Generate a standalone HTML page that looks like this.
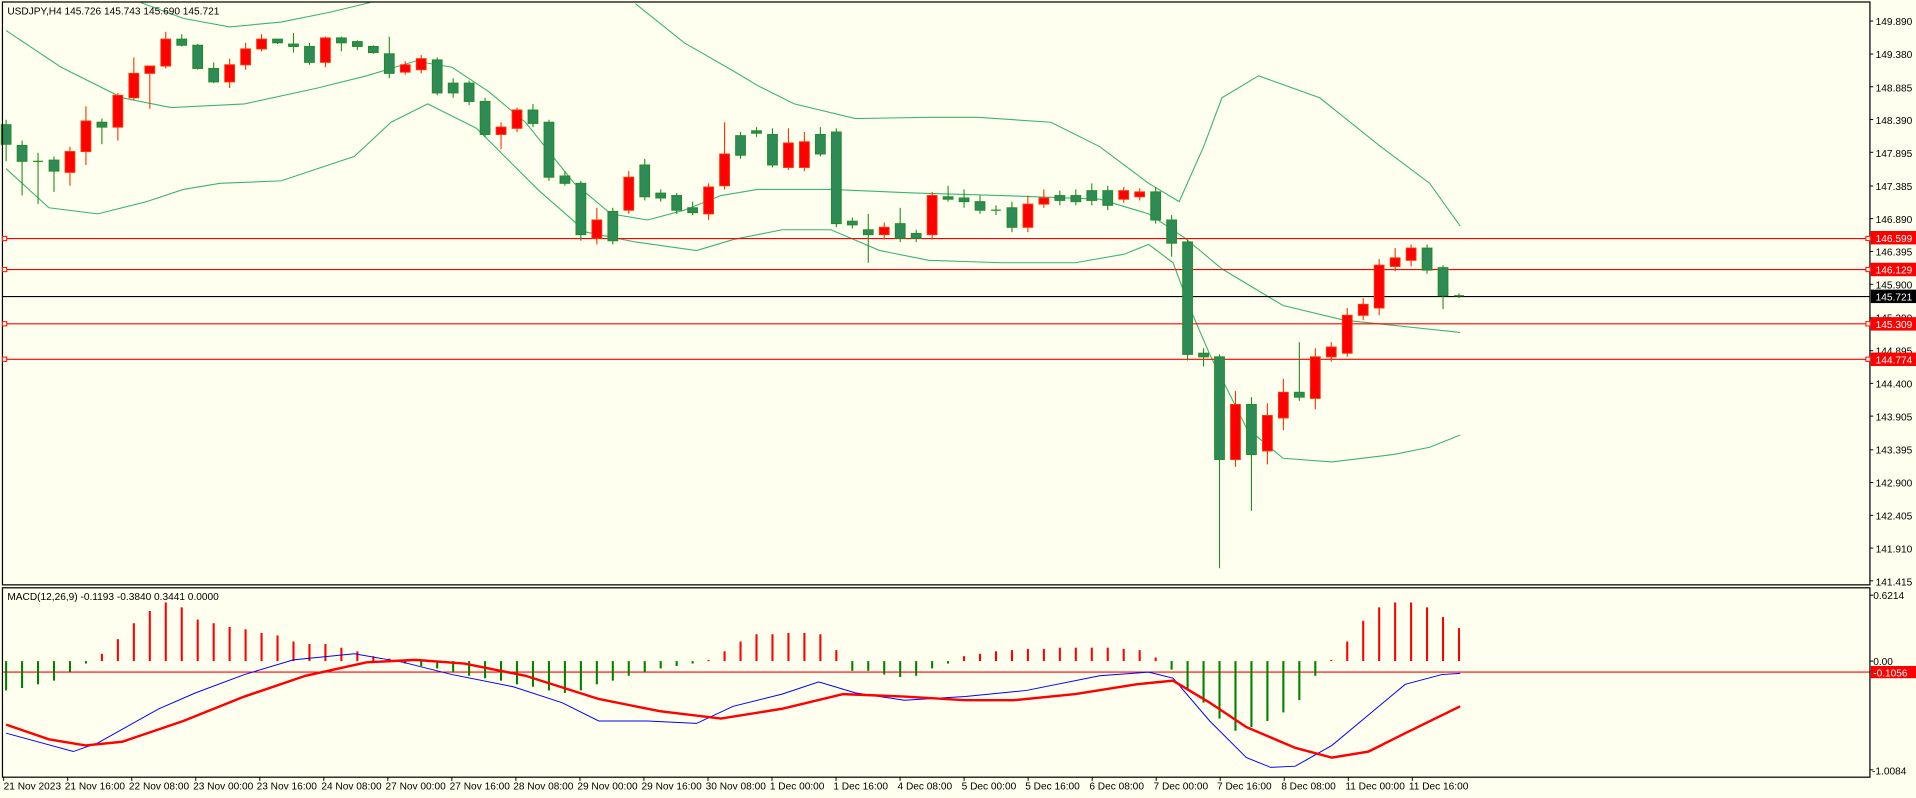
<!DOCTYPE html>
<html><head><meta charset="utf-8"><style>
html,body{margin:0;padding:0;background:#fffff0;overflow:hidden}
svg{display:block}
text{font-family:"Liberation Sans",sans-serif;font-size:8.3px;fill:#000}
</style></head><body>
<svg id="s" width="1916" height="798" viewBox="0 0 1568 653" xmlns="http://www.w3.org/2000/svg">
<rect x="0" y="0" width="1568" height="653" fill="#fffff0"/>
<g id="bands" fill="none" stroke="#3cb371" stroke-width="0.9">
<polyline points="115,2 150,15 188,22 230,18 270,10 303,2"/>
<polyline points="520,3 560,35 600,58 620,70 650,85 700,97 760,96 800,96 860,100 900,120 940,150 965,165 985,120 1000,80 1030,62 1080,80 1130,120 1170,150 1195,185"/>
<polyline points="5,25 50,55 100,80 140,88 200,85 260,72 300,62 340,50 370,55 400,75 430,100 470,150 500,175 530,180 560,172 590,160 620,155 680,155 750,158 820,160 900,163 940,175 970,195 1000,220 1050,250 1100,262 1195,272"/>
<polyline points="5,138 40,170 80,175 120,165 150,155 180,150 230,148 290,128 320,100 350,85 390,105 440,155 480,190 520,198 570,205 600,196 640,188 680,188 720,205 760,213 820,215 880,215 920,208 940,200 960,215 975,255 990,290 1020,350 1050,375 1090,378 1140,372 1170,366 1195,356"/>
</g>
<g id="levels">
<line x1="2" y1="195.2" x2="1530" y2="195.2" stroke="#ff0000" stroke-width="0.9"/>
<line x1="2" y1="220.6" x2="1530" y2="220.6" stroke="#ff0000" stroke-width="0.9"/>
<line x1="2" y1="265" x2="1530" y2="265" stroke="#ff0000" stroke-width="0.9"/>
<line x1="2" y1="294" x2="1530" y2="294" stroke="#ff0000" stroke-width="0.9"/>
<line x1="2" y1="242.7" x2="1530" y2="242.7" stroke="#000" stroke-width="0.9"/>
<line x1="2" y1="550" x2="1530" y2="550" stroke="#ff0000" stroke-width="0.9"/>
</g>
<g id="candles"></g>
<g id="hist"></g>
<g fill="none">
<polyline stroke="#0000ff" stroke-width="0.8" points="5,600 60,615 80,608 130,580 160,567 200,552 240,540 290,535 330,542 370,552 420,562 460,575 490,590 530,590 570,592 600,578 640,568 670,558 700,567 740,573 790,570 840,565 900,553 940,550 960,555 990,590 1020,620 1040,628 1060,627 1090,610 1120,585 1150,560 1180,552 1195,551"/>
<polyline stroke="#ff0000" stroke-width="2" points="5,593 40,605 70,610 100,607 150,590 200,570 250,553 300,542 340,540 380,543 430,553 490,572 540,582 590,588 640,580 690,568 740,570 790,573 830,573 880,568 930,560 960,557 990,575 1020,595 1060,612 1090,620 1120,615 1150,600 1195,578"/>
</g>
<g fill="none" stroke="#000" stroke-width="1">
<rect x="2" y="1.6" width="1528.3" height="477"/>
<rect x="2" y="481" width="1528.3" height="155"/>
</g>
<g fill="#fffff0" stroke="#ff0000" stroke-width="0.8">
<rect x="2" y="193.4" width="3.5" height="3.5"/><rect x="2" y="218.8" width="3.5" height="3.5"/>
<rect x="2" y="263.2" width="3.5" height="3.5"/><rect x="2" y="292.2" width="3.5" height="3.5"/>
<rect x="1527" y="193.4" width="3.5" height="3.5"/><rect x="1527" y="218.8" width="3.5" height="3.5"/>
<rect x="1527" y="263.2" width="3.5" height="3.5"/><rect x="1527" y="292.2" width="3.5" height="3.5"/>
</g>
<g id="pticks" stroke="#000" stroke-width="0.8"></g>
<g>
<text x="1535" y="20.5">149.890</text>
<text x="1535" y="47.5">149.380</text>
<text x="1535" y="75">148.885</text>
<text x="1535" y="101.5">148.390</text>
<text x="1535" y="128.5">147.895</text>
<text x="1535" y="155.5">147.385</text>
<text x="1535" y="182.5">146.890</text>
<text x="1535" y="209">146.395</text>
<text x="1535" y="236">145.900</text>
<text x="1535" y="263">145.390</text>
<text x="1535" y="290">144.895</text>
<text x="1535" y="317">144.400</text>
<text x="1535" y="344">143.905</text>
<text x="1535" y="371">143.395</text>
<text x="1535" y="398">142.900</text>
<text x="1535" y="425">142.405</text>
<text x="1535" y="452">141.910</text>
<text x="1535" y="479">141.415</text>
<rect x="1531" y="189" width="37" height="11" fill="#ff0000"/><text x="1535" y="198" style="fill:#fff">146.599</text>
<rect x="1531" y="215" width="37" height="11" fill="#ff0000"/><text x="1535" y="224" style="fill:#fff">146.129</text>
<rect x="1531" y="237" width="37" height="11" fill="#000"/><text x="1535" y="246" style="fill:#fff">145.721</text>
<rect x="1531" y="259.5" width="37" height="11" fill="#ff0000"/><text x="1535" y="268.5" style="fill:#fff">145.309</text>
<rect x="1531" y="288.5" width="37" height="11" fill="#ff0000"/><text x="1535" y="297.5" style="fill:#fff">144.774</text>
<text x="1533" y="490">0.6214</text>
<text x="1533" y="544">0.00</text>
<rect x="1531" y="545" width="37" height="10" fill="#ff0000"/><text x="1533" y="553.5" style="fill:#fff">-0.1056</text>
<text x="1532" y="634">-1.0084</text>
<text x="6" y="12">USDJPY,H4  145.726 145.743 145.690 145.721</text>
<text x="6" y="491">MACD(12,26,9) -0.1193 -0.3840 0.3441 0.0000</text>
</g>
<g id="tlabels">
<text x="3" y="646">21 Nov 2023</text>
<text x="53" y="646">21 Nov 16:00</text>
<text x="105.5" y="646">22 Nov 08:00</text>
<text x="158" y="646">23 Nov 00:00</text>
<text x="210" y="646">23 Nov 16:00</text>
<text x="263" y="646">24 Nov 08:00</text>
<text x="315.5" y="646">27 Nov 00:00</text>
<text x="368" y="646">27 Nov 16:00</text>
<text x="420" y="646">28 Nov 08:00</text>
<text x="472.5" y="646">29 Nov 00:00</text>
<text x="525" y="646">29 Nov 16:00</text>
<text x="577.5" y="646">30 Nov 08:00</text>
<text x="630" y="646">1 Dec 00:00</text>
<text x="682" y="646">1 Dec 16:00</text>
<text x="734.5" y="646">4 Dec 08:00</text>
<text x="787" y="646">5 Dec 00:00</text>
<text x="839" y="646">5 Dec 16:00</text>
<text x="891.5" y="646">6 Dec 08:00</text>
<text x="944" y="646">7 Dec 00:00</text>
<text x="996" y="646">7 Dec 16:00</text>
<text x="1048.5" y="646">8 Dec 08:00</text>
<text x="1101" y="646">11 Dec 00:00</text>
<text x="1153" y="646">11 Dec 16:00</text>
</g>
<g id="tticks" stroke="#000" stroke-width="0.8"></g>
</svg>
<script>
var NS="http://www.w3.org/2000/svg";
function el(p,t,a){var e=document.createElementNS(NS,t);for(var k in a)e.setAttribute(k,a[k]);p.appendChild(e);return e;}
var C=[["g",102,118,98,132],["g",119,132,115,160],["g",132,133,125,167],["g",131,140,128,157],["r",124,141,120,152],["r",99,124,87,135],["g",100,104,97,118],["r",78,104,76,115],["r",60,80,47,82],["r",54,60,54,89],["r",32,54,26,56],["g",32,37,28,38],["g",37,56,36,57],["g",56,67,51,68],["r",53,67,48,72],["r",40,53,35,57],["r",32,40,28,42],["g",32,35,32,36],["g",36,38,27,43],["g",38,51,35,53],["r",31,51,30,55],["g",31,35,30,42],["g",34,38,33,41],["g",38,43,37,44],["g",44,60,30,64],
["r",53,59,50,61],["r",48,57,45,60],["g",49,76,47,78],["g",68,76,64,80],["g",68,83,66,86],["g",83,110,80,112],["r",104,110,100,122],["r",90,105,88,108],["g",90,101,85,104],["g",100,145,98,148],["g",144,150,140,152],["g",150,192,148,197],["r",180,195,170,200],["g",173,197,170,200],["r",145,172,140,175],["g",135,161,130,164],["g",158,162,155,165],["g",160,172,158,175],["g",170,174,165,176],["r",153,175,150,180],["r",126,152,100,155],["g",111,127,108,130],["g",107,109,104,112],["g",110,135,105,137],["r",117,137,105,139],["r",116,137,108,140],["g",110,126,104,128],["g",108,183,105,186],["g",181,184,178,187],["g",188,192,175,215],["r",186,192,182,196],["g",183,195,170,198],["g",191,195,188,198],["r",160,192,157,196],["g",161,163,152,165],["g",162,165,155,170],["g",165,172,160,175],["g",172,173,168,176],["g",170,186,165,190],["r",167,186,160,190],["r",162,167,155,170],["g",160,164,156,168],["g",160,165,155,168],["g",156,164,150,168],["g",156,168,152,172],["r",156,163,153,166],["r",157,161,154,164],["g",157,180,153,183],["g",180,199,176,210],["g",198,290,196,295],["g",289,292,285,300],["g",292,376,290,465],["r",331,376,320,382],["g",331,372,325,418],["r",340,369,330,380],["r",321,342,310,352],["g",321,325,280,328],["r",292,326,285,335],["r",284,292,280,296],["r",258,289,252,292],["r",249,258,244,262],["r",217,252,212,258],["r",211,218,203,222],["r",203,213,200,218],["g",203,221,200,224],["g",219,242,217,253],["g",242,243,240,244]];
var H=[565,563,560,557,550,543,535,523,510,500,493,497,507,510,513,515,518,520,525,527,527,530,533,537,539,543,545,547,550,553,555,557,560,562,565,567,565,560,557,553,550,547,545,543,540,533,525,519,519,518,518,519,532,549,549,552,554,553,547,543,537,535,533,532,531,531,530,530,530,530,531,532,538,548,565,575,588,598,595,590,583,573,553,540,525,508,497,493,493,497,505,514];
var cg=document.getElementById("candles"),hg=document.getElementById("hist");
var dx=(1194-5)/(C.length-1);
C.forEach(function(c,i){var x=5+dx*i;var red=c[0]=="r";
 var wc=red?"#ff3000":"#228b22",fc=red?"#ff0000":"#2e8b57";
 el(cg,"line",{x1:x,x2:x,y1:c[3],y2:c[4],stroke:wc,"stroke-width":0.9});
 var h=Math.max(c[2]-c[1],0.8);
 if(h<=1.2) el(cg,"line",{x1:x-4,x2:x+4,y1:c[1],y2:c[1],stroke:wc,"stroke-width":1});
 else el(cg,"rect",{x:x-4,y:c[1],width:8,height:h,fill:fc,stroke:wc,"stroke-width":0.8});
});
for(var i=0;i<H.length&&i<C.length;i++){var x=5+dx*i,v=H[i];var red=v<541;
 el(hg,"line",{x1:x,x2:x,y1:541,y2:v,stroke:red?"#ff0000":"#008000","stroke-width":1.7});}
var pt=document.getElementById("pticks");
[17.2,44.2,71,97.8,124.6,152.2,178.9,205.7,232.6,260.2,287,313.7,340.5,368.1,394.9,421.7,448.5,475.3,541,487,630].forEach(function(y){el(pt,"line",{x1:1530,x2:1533,y1:y,y2:y});});
var tt=document.getElementById("tticks");
for(var k=0;k<23;k++){var x=3+52.4*k;el(tt,"line",{x1:x,x2:x,y1:636,y2:639});}
</script>
</body></html>
